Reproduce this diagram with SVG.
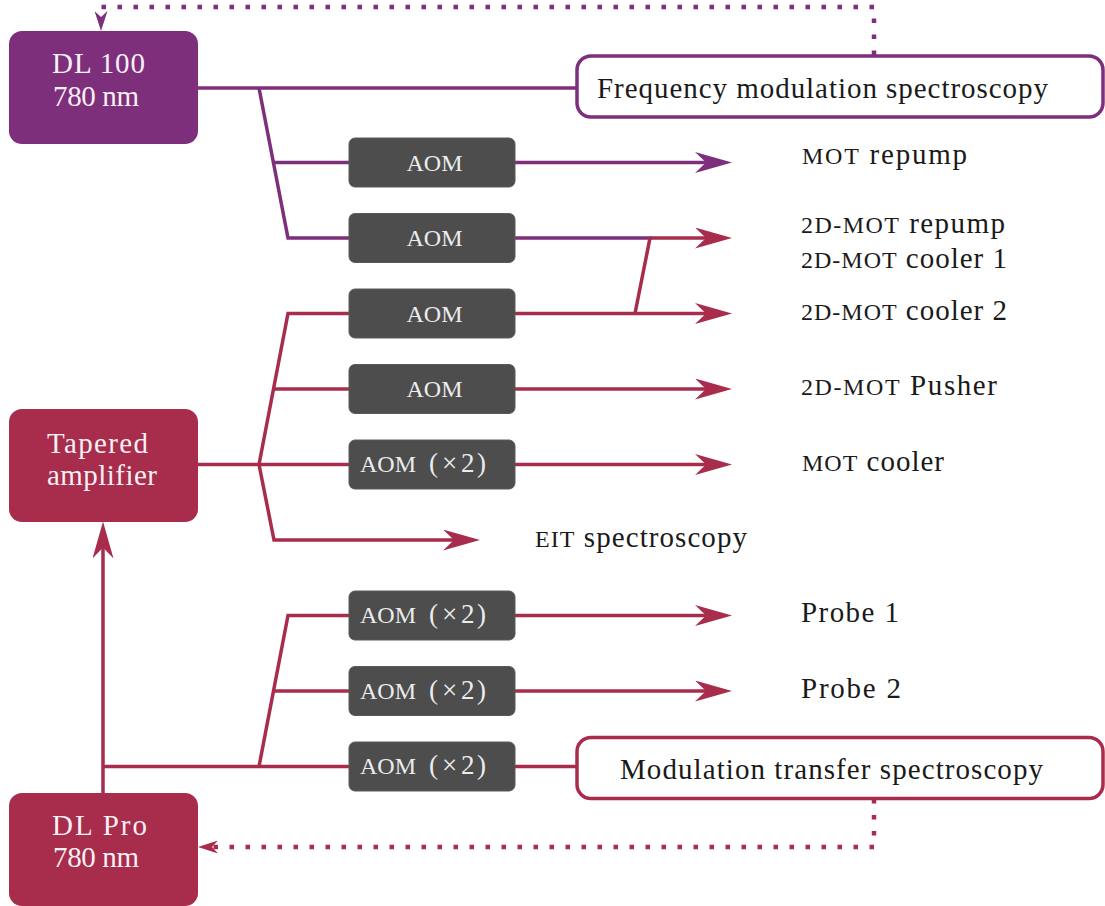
<svg xmlns="http://www.w3.org/2000/svg" width="1105" height="906" viewBox="0 0 1105 906">
<style>
.t{font-family:'Liberation Serif','Times New Roman',serif;font-size:29px;fill:#1a1a1a}
.sc{font-size:24px}
.lt{fill:#f7f0f5}
.aomt{font-size:24px;fill:#ececec}
.par{font-size:27px}
.aom{fill:#4d4d4d;stroke:#5a5a5a;stroke-width:1}
.p{stroke:#7e2f7c;stroke-width:3.5;fill:none}
.r{stroke:#a82c4b;stroke-width:3.5;fill:none}
.dp{stroke:#7e2f7c;stroke-width:4.5;fill:none;stroke-dasharray:4.5 11.5}
.dr{stroke:#a82c4b;stroke-width:4.5;fill:none;stroke-dasharray:4.5 11.5}
</style>
<defs>
<marker id="ap" markerUnits="userSpaceOnUse" viewBox="0 0 37 21" refX="27" refY="10.5" markerWidth="37" markerHeight="21" orient="auto"><path d="M37,10.5 L0,0 L11,10.5 L0,21 Z" fill="#7e2f7c"/></marker>
<marker id="ar" markerUnits="userSpaceOnUse" viewBox="0 0 37 21" refX="27" refY="10.5" markerWidth="37" markerHeight="21" orient="auto"><path d="M37,10.5 L0,0 L11,10.5 L0,21 Z" fill="#a82c4b"/></marker>
<marker id="aps" markerUnits="userSpaceOnUse" viewBox="0 0 20 13" refX="14" refY="6.5" markerWidth="20" markerHeight="13" orient="auto"><path d="M20,6.5 L0,0 L6,6.5 L0,13 Z" fill="#7e2f7c"/></marker>
<marker id="ars" markerUnits="userSpaceOnUse" viewBox="0 0 20 13" refX="14" refY="6.5" markerWidth="20" markerHeight="13" orient="auto"><path d="M20,6.5 L0,0 L6,6.5 L0,13 Z" fill="#a82c4b"/></marker>
</defs>
<rect width="1105" height="906" fill="#ffffff"/>
<g id="connectors">
<path class="p" d="M198,88 H577"/>
<path class="p" d="M259,88 L288,238 H349"/>
<path class="p" d="M274,162.5 H349"/>
<path class="p" d="M515,162.5 H722" marker-end="url(#ap)"/>
<path class="p" d="M515,238 H652"/>
<path class="r" d="M650,238 H722" marker-end="url(#ar)"/>
<path class="r" d="M650,238 L635,313.5"/>
<path class="r" d="M198,464.5 H349"/>
<path class="r" d="M259,464.5 L288,313.5 H349"/>
<path class="r" d="M274,389 H349"/>
<path class="r" d="M259,464.5 L274,540 H470" marker-end="url(#ar)"/>
<path class="r" d="M515,313.5 H722" marker-end="url(#ar)"/>
<path class="r" d="M515,389 H722" marker-end="url(#ar)"/>
<path class="r" d="M515,464.5 H722" marker-end="url(#ar)"/>
<path class="r" d="M103,793 V531.5" marker-end="url(#ar)"/>
<path class="r" d="M103,766.5 H349"/>
<path class="r" d="M259,766.5 L288,615.5 H349"/>
<path class="r" d="M274,691 H349"/>
<path class="r" d="M515,615.5 H722" marker-end="url(#ar)"/>
<path class="r" d="M515,691 H722" marker-end="url(#ar)"/>
<path class="r" d="M515,766.5 H577"/>
<path class="dp" d="M874,55 V7 H101 V25" marker-end="url(#aps)"/>
<path class="dr" d="M874,799 V847 H204" marker-end="url(#ars)"/>
</g>
<g id="dl100">
<rect x="9" y="31" width="189" height="113" rx="13" fill="#7e2f7c"/>
<text class="t lt" x="52" y="73" textLength="93">DL 100</text>
<text class="t lt" x="53" y="106" textLength="86">780 nm</text>
</g>
<g id="ta">
<rect x="9" y="409" width="189" height="113" rx="13" fill="#a82c4b"/>
<text class="t lt" x="47" y="453" textLength="101">Tapered</text>
<text class="t lt" x="47" y="485" textLength="110">amplifier</text>
</g>
<g id="dlpro">
<rect x="9" y="793" width="189" height="113" rx="13" fill="#a82c4b"/>
<text class="t lt" x="52" y="835" textLength="95">DL Pro</text>
<text class="t lt" x="53" y="867" textLength="86">780 nm</text>
</g>
<g id="fms">
<rect x="577" y="56" width="526" height="61" rx="14" fill="#ffffff" stroke="#7e2f7c" stroke-width="3.5"/>
<text class="t" x="597" y="97.5" textLength="451">Frequency modulation spectroscopy</text>
</g>
<g id="mts">
<rect x="577" y="737.5" width="526" height="61" rx="14" fill="#ffffff" stroke="#a82c4b" stroke-width="3.5"/>
<text class="t" x="620" y="778.5" textLength="423">Modulation transfer spectroscopy</text>
</g>
<g id="aom1"><rect class="aom" x="349" y="138" width="166" height="49" rx="6"/><text class="t aomt" x="434.5" y="170.5" text-anchor="middle">AOM</text></g>
<g id="aom2"><rect class="aom" x="349" y="213.5" width="166" height="49" rx="6"/><text class="t aomt" x="434.5" y="246" text-anchor="middle">AOM</text></g>
<g id="aom3"><rect class="aom" x="349" y="289" width="166" height="49" rx="6"/><text class="t aomt" x="434.5" y="321.5" text-anchor="middle">AOM</text></g>
<g id="aom4"><rect class="aom" x="349" y="364.5" width="166" height="49" rx="6"/><text class="t aomt" x="434.5" y="397" text-anchor="middle">AOM</text></g>
<g id="aom5"><rect class="aom" x="349" y="440" width="166" height="49" rx="6"/><text class="t aomt" x="360" y="472">AOM <tspan class="par" x="429 442 461 477">(×2)</tspan></text></g>
<g id="aom6"><rect class="aom" x="349" y="591" width="166" height="49" rx="6"/><text class="t aomt" x="360" y="623">AOM <tspan class="par" x="429 442 461 477">(×2)</tspan></text></g>
<g id="aom7"><rect class="aom" x="349" y="666.5" width="166" height="49" rx="6"/><text class="t aomt" x="360" y="698.5">AOM <tspan class="par" x="429 442 461 477">(×2)</tspan></text></g>
<g id="aom8"><rect class="aom" x="349" y="742" width="166" height="49" rx="6"/><text class="t aomt" x="360" y="774">AOM <tspan class="par" x="429 442 461 477">(×2)</tspan></text></g>
<g id="labels">
<text class="t" x="802" y="164" textLength="165"><tspan class="sc">MOT</tspan> repump</text>
<text class="t" x="801" y="233" textLength="204"><tspan class="sc">2D-MOT</tspan> repump</text>
<text class="t" x="801" y="268" textLength="206"><tspan class="sc">2D-MOT</tspan> cooler 1</text>
<text class="t" x="801" y="319.5" textLength="206"><tspan class="sc">2D-MOT</tspan> cooler 2</text>
<text class="t" x="801" y="395" textLength="196"><tspan class="sc">2D-MOT</tspan> Pusher</text>
<text class="t" x="802" y="471" textLength="142"><tspan class="sc">MOT</tspan> cooler</text>
<text class="t" x="535" y="547" textLength="212"><tspan class="sc">EIT</tspan> spectroscopy</text>
<text class="t" x="801" y="622" textLength="98">Probe 1</text>
<text class="t" x="801" y="698" textLength="100">Probe 2</text>
</g>
</svg>
